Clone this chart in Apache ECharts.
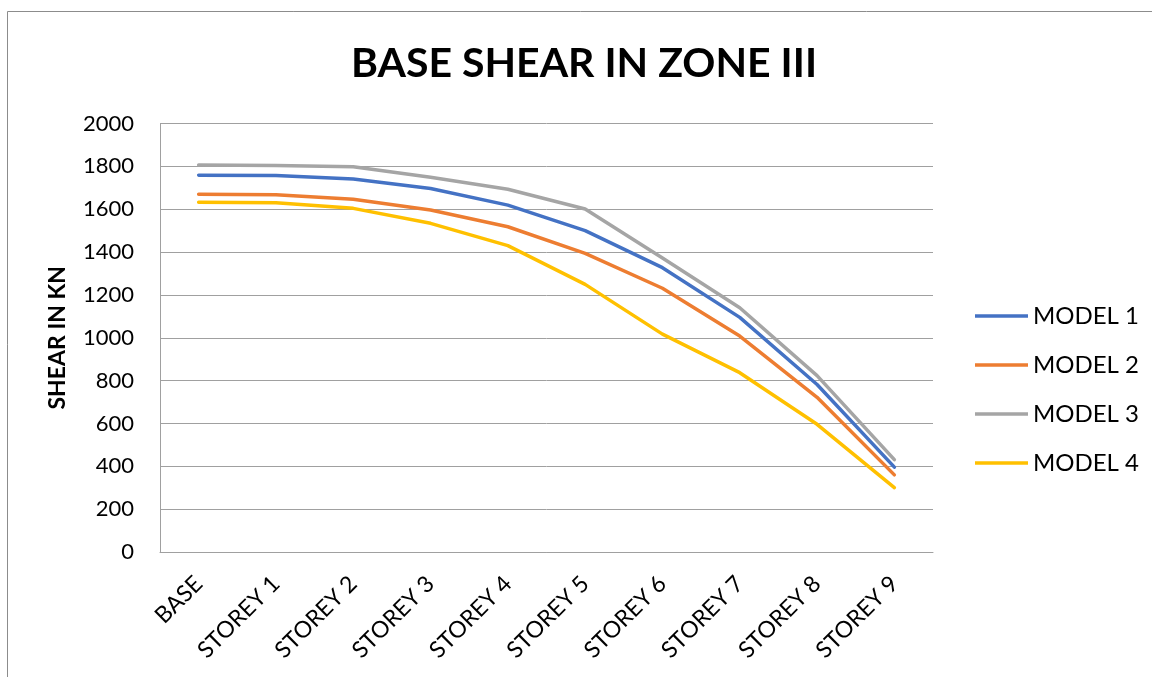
<!DOCTYPE html>
<html>
<head>
<meta charset="utf-8">
<script src="https://cdn.jsdelivr.net/npm/echarts@6/dist/echarts.min.js"></script>
<style>
	html,body{margin:0;padding:0;background:#fff;}
	#chart{width:1152px;height:677px;}
</style>
</head>
<body>
<div id="chart"></div>
<script>
	// categories and series values
	const storeys = ['BASE','STOREY 1','STOREY 2','STOREY 3','STOREY 4','STOREY 5','STOREY 6','STOREY 7','STOREY 8','STOREY 9'];
	const model1 = [1759,1757,1741,1697,1619,1500,1327,1095,782,396];
	const model2 = [1670,1668,1646,1596,1518,1394,1231,1008,722,360];
	const model3 = [1806,1804,1798,1749,1693,1601,1372,1140,823,431];
	const model4 = [1632,1630,1604,1534,1430,1249,1017,837,596,300];
	const seriesNames = ['MODEL 1','MODEL 2','MODEL 3','MODEL 4'];
	const colors = ['#4472C4','#ED7D31','#A5A5A5','#FFC000'];

	const font = 'Lato, "Open Sans", sans-serif';
	const gridColor = '#A0A0A0';

	const myChart = echarts.init(document.getElementById('chart'));

	const lineSeries = [model1, model2, model3, model4].map((data, i) => ({
		name: seriesNames[i],
		type: 'line',
		data: data,
		symbol: 'none',
		smooth: false,
		color: colors[i],
		lineStyle: {color: colors[i], width: 3.5, cap: 'round', join: 'round'}
	}));

	const option = {
		backgroundColor: '#fff',
		animation: false,
		graphic: [{
			type: 'rect',
			shape: {x: 7.5, y: 11.5, width: 2000, height: 2000},
			style: {fill: 'none', stroke: '#8c8c8c', lineWidth: 1}
		}],
		title: {
			text: 'BASE SHEAR IN ZONE III',
			left: 579,
			top: 38,
			textAlign: 'center',
			textStyle: {fontFamily: font, fontWeight: 'bold', fontSize: 41, color: '#000'}
		},
		legend: {
			orient: 'vertical',
			left: 970,
			top: 299,
			icon: 'rect',
			itemWidth: 53,
			itemHeight: 3.5,
			itemGap: 25,
			textStyle: {fontFamily: font, fontSize: 24, lineHeight: 24, color: '#000'},
			data: seriesNames
		},
		grid: {left: 160, right: 219, top: 123.5, bottom: 125, containLabel: false},
		xAxis: {
			type: 'category',
			data: storeys,
			boundaryGap: true,
			axisLine: {show: true, lineStyle: {color: gridColor, width: 1}},
			axisTick: {show: false},
			axisLabel: {
				rotate: 45,
				interval: 0,
				margin: 28,
				fontFamily: font,
				fontSize: 23,
				color: '#000'
			}
		},
		yAxis: {
			type: 'value',
			min: 0,
			max: 2000,
			interval: 200,
			name: 'SHEAR IN KN',
			nameLocation: 'middle',
			nameGap: 91,
			nameTextStyle: {fontFamily: font, fontWeight: 'bold', fontSize: 23, color: '#000'},
			axisLine: {show: true, lineStyle: {color: gridColor, width: 1}},
			axisTick: {show: false},
			splitLine: {show: true, lineStyle: {color: gridColor, width: 1}},
			axisLabel: {
				margin: 26,
				fontFamily: font,
				fontSize: 22,
				color: '#000',
				formatter: function(value){
					return String(value);
				}
			}
		},
		series: lineSeries
	};

	myChart.setOption(option);
</script>
</body>
</html>
